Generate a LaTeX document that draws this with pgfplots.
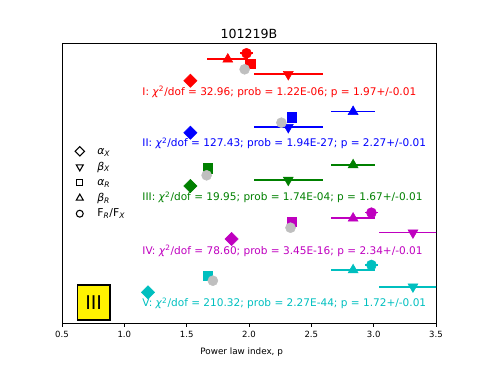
\documentclass[border=0pt]{standalone}
\usepackage{fontspec}
\setmainfont{DejaVu Sans}
\usepackage{pgfplots}
\pgfplotsset{compat=1.18}

\definecolor{mgreen}{rgb}{0,0.5,0}
\definecolor{mmag}{rgb}{0.75,0,0.75}
\definecolor{mcyan}{rgb}{0,0.75,0.75}
\definecolor{mgray}{rgb}{0.75,0.75,0.75}

\pgfplotsset{
  pt/.style={only marks, forget plot},
  xerr/.style={error bars/x dir=both, error bars/x explicit, error bars/error mark=none,
    error bars/error bar style={line width=1.2pt}},
  dia/.style={pt, mark=square*, mark size=3.5pt, mark options={rotate=45}},
  dtri/.style={pt, xerr, mark=triangle*, mark size=4.3pt, mark options={rotate=180}},
  sq/.style={pt, mark=square*, mark size=3.4pt},
  utri/.style={pt, xerr, mark=triangle*, mark size=4.3pt},
  circ/.style={pt, xerr, mark=*, mark size=3.75pt},
  pidx/.style={pt, mark=*, mark size=3.75pt, color=mgray},
  legmark/.style={legend image code/.code={
      \path (0cm,0cm) (0.72cm,0cm);
      \draw[##1] plot coordinates {(0.3cm,0cm)};}},
}

\begin{document}
\begin{tikzpicture}
\path[use as bounding box] (-46.5pt,-30.75pt) rectangle (317.25pt,242.25pt);
\begin{axis}[
    at={(0,0)}, anchor=south west,
    scale only axis,
    width=280.5pt, height=210pt,
    xmin=0.5, xmax=3.5, ymin=1, ymax=281,
    xtick={0.5,1,1.5,2,2.5,3,3.5},
    ytick=\empty,
    xtick pos=bottom, tick align=outside,
    major tick length=2.8pt,
    axis line style={line width=0.6pt},
    every tick/.style={black, line width=0.6pt},
    xticklabel style={/pgf/number format/.cd, fixed, fixed zerofill, precision=1,
      assume math mode=true},
    tick label style={font=\fontsize{6.4}{7}\selectfont},
    xlabel={Power law index, p},
    xlabel style={font=\fontsize{6.6}{8}\selectfont, at={(axis description cs:0.5,0)},
      anchor=center, yshift=-21.5pt, xshift=-5.5pt},
    title={101219B},
    every axis title/.style={at={(axis description cs:0.5,1)}, anchor=base, yshift=3.2pt,
      font=\fontsize{9.45}{11}\selectfont},
    legend style={draw=none, fill=none, at={(axis cs:0.515,141.5)}, anchor=west,
      font=\fontsize{8.1}{9}\selectfont, row sep=1.5pt,
      nodes={inner sep=1pt, text height=6.5pt, text depth=1.7pt}},
    legend cell align=left,
]
\addlegendimage{legmark, only marks, mark=square, mark size=2.5pt, mark options={rotate=45, black, line width=0.8pt}}
\addlegendentry{\textit{α}\textsubscript{\itshape X}}
\addlegendimage{legmark, only marks, mark=triangle, mark size=3pt, mark options={rotate=180, black, line width=0.8pt}}
\addlegendentry{\textit{β}\textsubscript{\itshape X}}
\addlegendimage{legmark, only marks, mark=square, mark size=2.3pt, mark options={black, line width=0.8pt}}
\addlegendentry{\textit{α}\textsubscript{\itshape R}}
\addlegendimage{legmark, only marks, mark=triangle, mark size=3pt, mark options={black, line width=0.8pt}}
\addlegendentry{\textit{β}\textsubscript{\itshape R}}
\addlegendimage{legmark, only marks, mark=o, mark size=2.6pt, mark options={black, line width=0.8pt}}
\addlegendentry{F\textsubscript{\itshape R}/F\textsubscript{\itshape X}}

% I
\addplot[dia, color=red] coordinates {(1.53,243.3)};
\addplot[dtri, color=red] coordinates {(2.315,249.7) +- (0.278,0)};
\addplot[sq, color=red] coordinates {(2.01,260)};
\addplot[utri, color=red] coordinates {(1.83,264.7) +- (0.165,0)};
\addplot[circ, color=red] coordinates {(1.98,270.7) +- (0.05,0)};
\addplot[pidx] coordinates {(1.965,254.7)};
% II
\addplot[dia, color=blue] coordinates {(1.53,191.3)};
\addplot[dtri, color=blue] coordinates {(2.315,196.7) +- (0.278,0)};
\addplot[sq, color=blue] coordinates {(2.345,206.7)};
\addplot[utri, color=blue] coordinates {(2.835,212.3) +- (0.178,0)};
\addplot[pidx] coordinates {(2.26,201.3)};
% III
\addplot[dia, color=mgreen] coordinates {(1.53,138)};
\addplot[dtri, color=mgreen] coordinates {(2.315,144) +- (0.278,0)};
\addplot[sq, color=mgreen] coordinates {(1.672,155.7)};
\addplot[utri, color=mgreen] coordinates {(2.835,159) +- (0.178,0)};
\addplot[pidx] coordinates {(1.66,148.7)};
% IV
\addplot[dia, color=mmag] coordinates {(1.86,85)};
\addplot[dtri, color=mmag] coordinates {(3.315,91.3) +- (0.275,0)};
\addplot[sq, color=mmag] coordinates {(2.34,102.3)};
\addplot[utri, color=mmag] coordinates {(2.835,105.7) +- (0.178,0)};
\addplot[circ, color=mmag] coordinates {(2.982,111.3) +- (0.055,0)};
\addplot[pidx] coordinates {(2.333,96.3)};
% V
\addplot[dia, color=mcyan] coordinates {(1.19,31.7)};
\addplot[dtri, color=mcyan] coordinates {(3.315,37.3) +- (0.275,0)};
\addplot[sq, color=mcyan] coordinates {(1.667,48)};
\addplot[utri, color=mcyan] coordinates {(2.835,54) +- (0.178,0)};
\addplot[circ, color=mcyan] coordinates {(2.982,59) +- (0.055,0)};
\addplot[pidx] coordinates {(1.71,43.3)};

\begin{scope}[every node/.style={anchor=west, inner sep=0pt, font=\fontsize{7.9}{9}\selectfont}]
\node[text=red] at (axis cs:1.143,232.3) {I: \textit{χ}\textsuperscript{2}/dof = 32.96; prob = 1.22E-06; p = 1.97+/-0.01};
\node[text=blue] at (axis cs:1.143,180.7) {II: \textit{χ}\textsuperscript{2}/dof = 127.43; prob = 1.94E-27; p = 2.27+/-0.01};
\node[text=mgreen] at (axis cs:1.143,126.7) {III: \textit{χ}\textsuperscript{2}/dof = 19.95; prob = 1.74E-04; p = 1.67+/-0.01};
\node[text=mmag] at (axis cs:1.143,73) {IV: \textit{χ}\textsuperscript{2}/dof = 78.60; prob = 3.45E-16; p = 2.34+/-0.01};
\node[text=mcyan] at (axis cs:1.143,20.7) {V: \textit{χ}\textsuperscript{2}/dof = 210.32; prob = 2.27E-44; p = 1.72+/-0.01};
\end{scope}
\node[fill=yellow, draw=black, line width=0.8pt, minimum width=24.5pt, minimum height=26.25pt,
  inner sep=0pt, font=\fontsize{14.2}{15}\selectfont] at (axis cs:0.754,21.5) {III};
\end{axis}
\end{tikzpicture}
\end{document}
